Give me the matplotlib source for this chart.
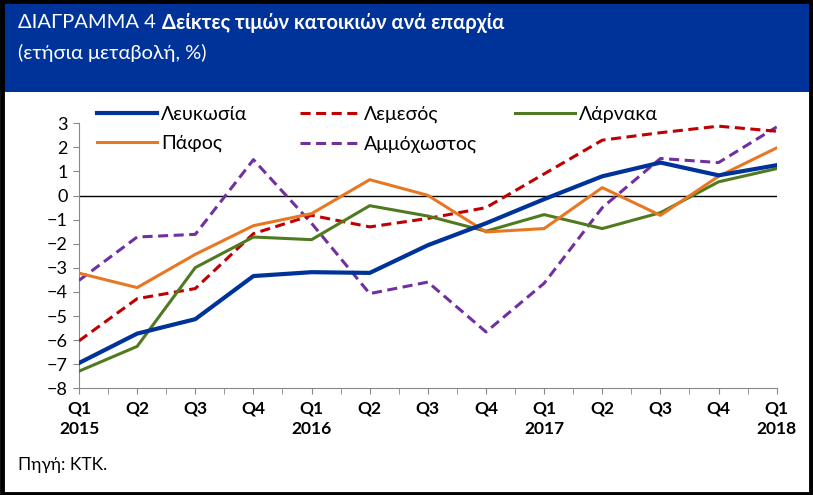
import matplotlib
matplotlib.use('Agg')
import matplotlib.pyplot as plt
from matplotlib.patches import Rectangle
from matplotlib.ticker import MultipleLocator

plt.rcParams['font.family'] = ['Lato', 'DejaVu Sans']

# data (annual change, %)
quarters = ['Q1\n2015', 'Q2', 'Q3', 'Q4', 'Q1\n2016', 'Q2', 'Q3', 'Q4',
            'Q1\n2017', 'Q2', 'Q3', 'Q4', 'Q1\n2018']
lefkosia = [-6.95, -5.73, -5.13, -3.34, -3.18, -3.21, -2.06, -1.15, -0.15, 0.80, 1.37, 0.84, 1.26]
lemesos = [-6.03, -4.28, -3.86, -1.58, -0.82, -1.30, -0.95, -0.50, 0.90, 2.30, 2.61, 2.88, 2.67]
larnaka = [-7.29, -6.26, -2.99, -1.72, -1.83, -0.42, -0.85, -1.48, -0.79, -1.37, -0.71, 0.57, 1.12]
pafos = [-3.22, -3.82, -2.44, -1.25, -0.75, 0.66, 0.01, -1.51, -1.37, 0.33, -0.82, 0.80, 1.98]
ammochostos = [-3.52, -1.72, -1.61, 1.49, -1.15, -4.07, -3.59, -5.66, -3.64, -0.50, 1.54, 1.37, 2.85]

W, H = 813, 495
fig = plt.figure(figsize=(W / 100, H / 100), dpi=100)

# header band + border
fig.patches.append(Rectangle((0, 1 - 92 / H), 1, 92 / H, transform=fig.transFigure,
                             facecolor='#003399', edgecolor='none', zorder=0))
fig.patches.append(Rectangle((0.002, 0.003), 0.996, 0.994, transform=fig.transFigure,
                             facecolor='none', edgecolor='black', linewidth=3.5, zorder=5))

t1 = fig.text(18 / W, 1 - 23 / H, 'ΔΙΑΓΡΑΜΜΑ 4', color='white', fontsize=14.5,
              va='center', ha='left')
r = fig.canvas.get_renderer()
x1 = t1.get_window_extent(r).x1
fig.text((x1 + 6) / W, 1 - 23 / H, 'Δείκτες τιμών κατοικιών ανά επαρχία', color='white',
         fontsize=14.5, fontweight='bold', va='center', ha='left')
fig.text(18 / W, 1 - 53 / H, '(ετήσια μεταβολή, %)', color='white', fontsize=14.5,
         va='center', ha='left')
fig.text(18 / W, 1 - 465 / H, 'Πηγή: ΚΤΚ.', fontsize=12.5, va='center', ha='left')

ax = fig.add_axes([79 / W, 1 - 388.3 / H, (776.7 - 79) / W, (388.3 - 123.3) / H])
x = range(len(quarters))

styles = [
    (lefkosia, 'Λευκωσία', '#003399', 3.0, '-', 6),
    (lemesos, 'Λεμεσός', '#C00000', 2.2, (0, (3.3, 1.8)), 4),
    (larnaka, 'Λάρνακα', '#4F7A1F', 2.2, '-', 5),
    (pafos, 'Πάφος', '#E87722', 2.2, '-', 5),
    (ammochostos, 'Αμμόχωστος', '#7030A0', 2.2, (0, (3.3, 1.8)), 3),
]
handles = {}
for vals, name, col, lw, ls, z in styles:
    line, = ax.plot(x, vals, color=col, lw=lw, ls=ls, label=name, zorder=z)
    handles[name] = line
ax.axhline(0, color='black', lw=1, zorder=2)

ax.set_xlim(0, 12)
ax.set_ylim(-8, 3)
ax.yaxis.set_major_locator(MultipleLocator(1))
ax.set_xticks(list(x))
ax.set_xticklabels(quarters, fontweight='bold', fontsize=12.5, linespacing=1.35)
ax.xaxis.set_minor_locator(MultipleLocator(0.5))
ax.tick_params(axis='x', which='both', direction='out', length=4, color='#888888', pad=5)
ax.tick_params(axis='y', direction='out', length=4, color='#888888', labelsize=13, pad=4)

for s in ['top', 'right']:
    ax.spines[s].set_visible(False)
ax.spines['left'].set_color('#888888')
ax.spines['bottom'].set_color('#888888')
ax.patch.set_alpha(0)

# legend: three columns at fixed positions
columns = [(97, ['Λευκωσία', 'Πάφος']), (300, ['Λεμεσός', 'Αμμόχωστος']), (515, ['Λάρνακα'])]
for xpos, names in columns:
    fig.legend([handles[n] for n in names], names, loc='upper left',
               bbox_to_anchor=(xpos / W, 1 - 106 / H), frameon=False, fontsize=14,
               handlelength=3.1, handletextpad=0.2, labelspacing=0.62, borderpad=0,
               borderaxespad=0)

fig.savefig('out.png', dpi=100)
